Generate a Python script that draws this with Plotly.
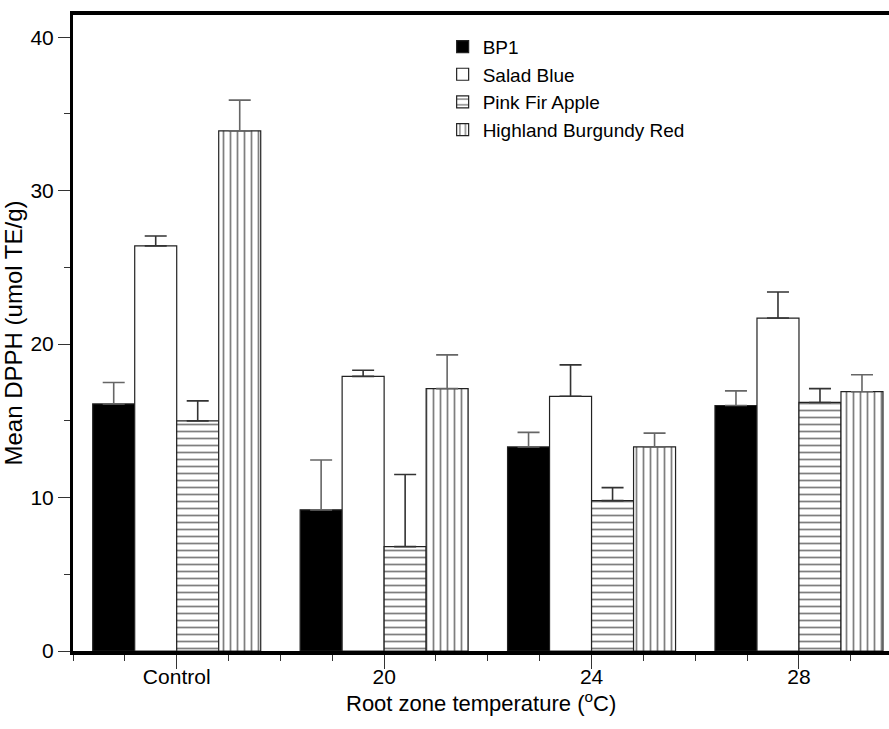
import plotly.graph_objects as go

categories = ["Control", "20", "24", "28"]
series = ["BP1", "Salad Blue", "Pink Fir Apple", "Highland Burgundy Red"]

bp1 = [16.1, 9.2, 13.3, 16.0]
bp1_err = [1.4, 3.25, 0.95, 0.95]
salad_blue = [26.4, 17.9, 16.6, 21.7]
salad_blue_err = [0.65, 0.4, 2.05, 1.7]
pink_fir = [15.0, 6.8, 9.8, 16.2]
pink_fir_err = [1.3, 4.7, 0.85, 0.9]
highland = [33.9, 17.1, 13.3, 16.9]
highland_err = [2.0, 2.2, 0.9, 1.1]

values = [bp1, salad_blue, pink_fir, highland]
errors = [bp1_err, salad_blue_err, pink_fir_err, highland_err]

FONT = "Liberation Sans, Arial, sans-serif"
xpos = list(range(len(categories)))

styles = [
    dict(color="black", pattern=None, err="#666666"),
    dict(color="white", pattern=None, err="#333333"),
    dict(color="white", pattern=dict(shape="-", size=7, solidity=0.25, fgcolor="black", bgcolor="white"), err="#333333"),
    dict(color="white", pattern=dict(shape="|", size=7, solidity=0.25, fgcolor="black", bgcolor="white"), err="#666666"),
]

fig = go.Figure()
for name, vals, errs, st in zip(series, values, errors, styles):
    marker = dict(color=st["color"], line=dict(color="#222222", width=1.2))
    if st["pattern"] is not None:
        marker["pattern"] = st["pattern"]
    fig.add_trace(go.Bar(
        name=name, x=xpos, y=vals, marker=marker,
        error_y=dict(type="data", symmetric=False, array=errs,
                     arrayminus=[0] * len(errs), color=st["err"],
                     thickness=1.6, width=11),
    ))

fig.update_layout(
    width=889, height=729,
    margin=dict(l=73, r=0, t=15, b=78),
    barmode="group", bargap=0.19, bargroupgap=0,
    plot_bgcolor="white", paper_bgcolor="white",
    font=dict(family=FONT, size=21, color="black"),
    legend=dict(x=0.453, y=0.98, xanchor="left", yanchor="top",
                bgcolor="rgba(0,0,0,0)", font=dict(size=19),
                tracegroupgap=0, itemwidth=30),
    showlegend=True,
    annotations=[dict(text="Root zone temperature (<sup>o</sup>C)", xref="paper", yref="paper",
                      x=0.5, y=-0.08, xanchor="center", yanchor="middle",
                      showarrow=False, font=dict(size=22))],
)

fig.update_xaxes(
    range=[-0.5, 3.434], tickvals=xpos, ticktext=categories,
    showline=True, linecolor="black", linewidth=4, mirror=True,
    ticks="outside", ticklen=14, tickwidth=1.2, tickcolor="#333333",
    minor=dict(dtick=0.25, tick0=0, ticks="outside", ticklen=6, tickwidth=1.2, tickcolor="#333333"),
    showgrid=False, zeroline=False, ticklabelstandoff=-10,
    tickfont=dict(size=21),
)
fig.update_yaxes(
    range=[0, 41.45], tickvals=[0, 10, 20, 30, 40],
    showline=True, linecolor="black", linewidth=3, mirror=False,
    ticks="outside", ticklen=12, tickwidth=1.2, tickcolor="#333333",
    minor=dict(dtick=5, tick0=0, ticks="outside", ticklen=6, tickwidth=1.2, tickcolor="#333333"),
    showgrid=False, zeroline=False,
    title=dict(text="Mean DPPH (umol TE/g)", font=dict(size=24), standoff=5),
    tickfont=dict(size=21),
)

fig.write_html("out.html")
